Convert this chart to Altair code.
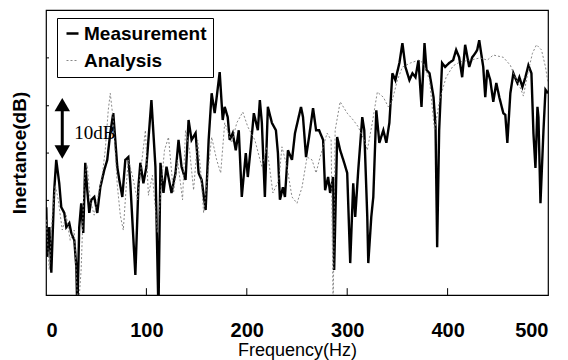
import altair as alt
import pandas as pd

# ---- data ----
series_names = ["Measurement", "Analysis"]

meas_freq = [0.3, 1.3, 3.3, 5.3, 8.2, 10.2, 13.2, 15.2, 18.2, 20.2, 23.2, 25.2, 28.2, 30.2, 31.2,
             33.1, 35.1, 37.1, 39.1, 41.1, 43.1, 45.1, 48.1, 51.1, 54.1, 58.0, 61.0, 64.0, 67.0,
             69.0, 71.0, 73.0, 76.0, 79.0, 82.0, 84.0, 89.0, 92.0, 94.0, 97.0, 100.0, 105.0, 109.0,
             112.0, 114.0, 117.0, 120.0, 125.0, 129.0, 132.0, 135.0, 139.0, 142.0, 145.0, 149.0,
             152.0, 155.0, 159.0, 162.0, 165.0, 168.0, 170.0, 173.0, 176.0, 178.0, 181.0, 183.0,
             186.0, 189.0, 192.0, 195.0, 199.0, 201.0, 204.0, 207.0, 211.0, 213.0, 215.0, 218.0,
             221.0, 225.0, 229.0, 231.0, 233.0, 236.0, 238.0, 241.0, 245.0, 248.0, 251.0, 254.0,
             256.0, 259.0, 262.0, 266.0, 269.0, 272.0, 276.0, 278.0, 281.0, 283.0, 286.0, 287.0,
             290.0, 293.0, 297.0, 300.0, 303.0, 306.0, 308.0, 311.0, 315.0, 317.0, 320.0, 321.0,
             324.0, 326.0, 329.0, 332.0, 336.0, 339.0, 342.0, 345.0, 348.0, 352.0, 355.0, 358.0,
             362.0, 365.0, 368.0, 371.0, 374.0, 377.0, 379.0, 382.0, 386.0, 388.0, 389.6, 391.6,
             394.5, 397.5, 401.5, 405.5, 408.5, 411.5, 414.5, 417.5, 421.5, 424.5, 427.5, 429.5,
             431.5, 435.5, 437.5, 439.5, 442.5, 445.5, 448.5, 451.5, 455.5, 457.5, 459.5, 462.5,
             465.5, 469.5, 471.5, 474.5, 477.5, 480.5, 483.5, 485.5, 487.5, 489.5, 490.5, 492.5,
             495.5, 497.5, 500.0]
meas_db = [15.4, 6.7, 11.9, 3.9, 18.4, 23.7, 19.6, 15.4, 14.4, 11.9, 12.6, 10.9, 9.6, 4.9, -3.0,
           11.9, 16.1, 10.9, 23.2, 18.4, 14.4, 16.7, 17.2, 14.4, 18.9, 21.9, 23.7, 28.4, 31.9,
           27.2, 22.5, 20.2, 17.2, 23.7, 24.2, 19.6, 3.5, 18.9, 23.2, 19.6, 22.5, 34.2, 22.5,
           -3.0, 23.2, 17.9, 22.5, 17.9, 21.4, 27.2, 22.5, 20.2, 30.7, 27.2, 28.4,
           21.4, 20.2, 14.9, 27.2, 35.4, 31.9, 34.7, 39.1, 30.7, 33.0, 31.2, 27.2,
           28.4, 25.4, 28.9, 17.2, 24.9, 20.7, 26.0, 31.9, 28.9, 34.2, 30.2, 17.2,
           33.0, 30.2, 28.9, 24.9, 16.7, 18.9, 17.2, 25.4, 23.7, 28.4, 30.7, 33.0,
           31.2, 24.2, 27.7, 32.8, 28.9, 28.9, 27.2, 18.4, 20.7, 17.9, 20.7, 4.4,
           27.7, 25.4, 23.2, 21.4, 5.6, 19.6, 13.7, 21.9, 31.2, 28.9, 13.7, 5.6,
           13.7, 17.2, 32.4, 26.7, 28.9, 26.7, 30.2, 38.9, 37.7, 40.7, 44.2, 40.0,
           37.7, 38.9, 38.2, 41.2, 33.0, 44.2, 39.5, 38.9, 34.7, 29.5, 8.4, 28.9,
           40.7, 40.0, 40.7, 41.2, 43.0, 41.7, 38.2, 43.9, 40.0, 41.7, 42.4, 43.0,
           44.7, 40.0, 34.7, 39.5, 37.7, 33.9, 37.2, 34.7, 31.9, 31.6, 26.7, 35.4,
           38.9, 37.2, 38.2, 36.5, 38.2, 40.3, 38.9, 28.4, 22.3, 33.0, 31.2, 16.1,
           28.9, 36.0, 35.4]

ana_freq = [0.3, 3.3, 6.3, 9.2, 12.2, 16.2, 20.1, 24.1, 28.1, 32.0, 35.0, 36.0, 38.0, 41.0,
            44.0, 48.0, 52.0, 56.0, 59.0, 62.0, 64.0, 67.0, 71.0, 74.0, 77.0, 80.0, 82.0, 86.0,
            91.0, 95.0, 99.0, 102.0, 106.0, 111.0, 115.0, 118.0, 122.0, 127.0, 131.0, 136.0,
            139.0, 143.0, 147.0, 151.0, 154.0, 157.0, 161.0, 165.0, 170.0, 174.0, 178.0, 185.0,
            190.0, 196.0, 201.0, 208.0, 215.0, 220.0, 226.0, 232.0, 235.0, 240.0, 245.0, 250.0,
            255.0, 260.0, 265.0, 269.0, 273.0, 280.0, 284.0, 286.0, 288.0, 293.0, 300.0, 306.0,
            311.0, 318.0, 320.0, 325.0, 330.0, 336.0, 341.0, 345.0, 350.0, 355.0, 363.0, 371.0,
            376.0, 382.0, 387.0, 392.0, 398.5, 405.5, 412.5, 422.5, 432.5, 439.5, 445.5, 455.5,
            462.5, 467.5, 472.5, 475.5, 479.5, 484.5, 488.5, 493.5, 497.5, 500.0]
ana_db = [13.2, 4.4, 14.0, 19.3, 16.7, 11.4, 14.0, 9.6, 11.4, -3.0, 4.4, 9.6, 20.2, 22.8,
          16.7, 14.0, 17.5, 21.0, 25.4, 32.4, 35.4, 30.7, 19.3, 14.0, 11.4, 19.3, 23.7, 21.0,
          16.7, 22.8, 28.9, 17.5, 21.0, 10.9, 19.6, 25.4, 27.7, 17.9, 23.7, 16.7,
          28.9, 25.4, 18.4, 27.2, 21.9, 14.4, 21.0, 27.7, 23.7, 21.4, 30.2, 26.7,
          30.2, 32.1, 29.5, 27.2, 22.5, 26.0, 17.9, 20.2, 26.0, 22.5, 17.2, 16.1,
          18.9, 24.2, 23.7, 21.4, 24.2, 28.4, 27.2, -3.0, 28.9, 33.9, 31.9, 30.7,
          29.5, 26.7, 25.4, 30.2, 35.6, 34.7, 33.0, 34.2, 37.7, 40.0, 40.7, 41.2,
          40.7, 37.7, 28.9, 34.2, 38.2, 40.2, 40.9, 41.2, 41.6, 41.2, 42.1, 41.7,
          40.3, 38.1, 36.3, 34.9, 38.6, 42.4, 43.9, 43.0, 40.0, 37.2]

x_tick_values = [0, 100, 200, 300, 400, 500]
x_inner_ticks = [100, 200, 300, 400]
y_inner_ticks = [8.3, 16.6, 24.9, 33.2, 41.6]

arrow_freq = [16.2]
arrow_low = [26.0]
arrow_high = [32.5]
head_db = [33.4, 25.1]
head_shape = ["triangle-up", "triangle-down"]
label_freq = [28.2]
label_db = [28.4]
label_text = ["10dB"]

# ---- tables ----
df = pd.concat([
    pd.DataFrame({"freq": meas_freq, "db": meas_db, "series": series_names[0]}),
    pd.DataFrame({"freq": ana_freq, "db": ana_db, "series": series_names[1]}),
], ignore_index=True)

x_scale = alt.Scale(domain=[0, 500], nice=False, zero=False)
y_scale = alt.Scale(domain=[0, 50], nice=False, zero=False)

x_axis = alt.Axis(values=x_tick_values, title="Frequency(Hz)", grid=False,
                  ticks=False, tickSize=0, domain=False, labelPadding=25,
                  labelFontSize=20, labelFontWeight="bold", labelFont="Liberation Sans",
                  labelColor="black", titleFontSize=18, titleFontWeight="normal",
                  titleFont="Liberation Sans", titleColor="black", titlePadding=1)
y_axis = alt.Axis(title="Inertance(dB)", labels=False, ticks=False, domain=False,
                  grid=False, titleFontSize=19, titleFontWeight="bold",
                  titleFont="Liberation Sans", titleColor="black", titlePadding=17)


def X(field):
    return alt.X(field, scale=x_scale, axis=x_axis, title="Frequency(Hz)")


def Y(field):
    return alt.Y(field, scale=y_scale, axis=y_axis, title="Inertance(dB)")


lines = alt.Chart(df).mark_line(clip=True).encode(
    x=X("freq:Q"),
    y=Y("db:Q"),
    color=alt.Color("series:N",
                    scale=alt.Scale(domain=series_names, range=["#000000", "#7a7a7a"]),
                    legend=alt.Legend(title=None, orient="none", legendX=11, legendY=8)),
    strokeDash=alt.StrokeDash("series:N",
                              scale=alt.Scale(domain=series_names, range=[[1, 0], [2, 2]])),
    strokeWidth=alt.StrokeWidth("series:N",
                                scale=alt.Scale(domain=series_names, range=[2.4, 0.9])),
)

xt_df = pd.DataFrame({"freq": x_inner_ticks, "lo": 0.0, "hi": 1.2})
x_ticks_layer = alt.Chart(xt_df).mark_rule(color="black", strokeWidth=1).encode(
    x=X("freq:Q"), y=Y("lo:Q"), y2="hi:Q",
)

yt_df = pd.DataFrame({"db": y_inner_ticks, "lo": 0.0, "hi": 3.0})
y_ticks_layer = alt.Chart(yt_df).mark_rule(color="black", strokeWidth=1).encode(
    y=Y("db:Q"), x=X("lo:Q"), x2="hi:Q",
)

arrow_df = pd.DataFrame({"freq": arrow_freq, "lo": arrow_low, "hi": arrow_high})
arrow_shaft = alt.Chart(arrow_df).mark_rule(color="black", strokeWidth=3).encode(
    x=X("freq:Q"), y=Y("lo:Q"), y2="hi:Q",
)

head_df = pd.DataFrame({"freq": arrow_freq * 2, "db": head_db, "shape": head_shape})
arrow_heads = alt.Chart(head_df).mark_point(filled=True, color="black", opacity=1, size=240,
                                            strokeWidth=0).encode(
    x=X("freq:Q"), y=Y("db:Q"),
    shape=alt.Shape("shape:N", scale=None, legend=None),
)

label_df = pd.DataFrame({"freq": label_freq, "db": label_db, "text": label_text})
arrow_label = alt.Chart(label_df).mark_text(align="left", baseline="middle",
                                            font="Liberation Serif", fontSize=19,
                                            color="black").encode(
    x=X("freq:Q"), y=Y("db:Q"), text="text:N",
)

chart = alt.layer(
    lines, x_ticks_layer, y_ticks_layer, arrow_shaft, arrow_heads, arrow_label
).properties(
    width=502, height=285, autosize="none",
    padding={"left": 46, "top": 10, "right": 20, "bottom": 65},
    background="white",
).configure_view(
    stroke="black", strokeWidth=1.2
).configure_legend(
    strokeColor="black", fillColor="white", padding=6, rowPadding=7,
    labelFont="Liberation Sans", labelFontSize=19, labelFontWeight="bold",
    labelColor="black", labelLimit=300, symbolType="stroke", symbolSize=144,
    labelOffset=2, cornerRadius=0, strokeWidth=1,
)

chart.save("out.html", embed_options={"renderer": "svg", "actions": False})
